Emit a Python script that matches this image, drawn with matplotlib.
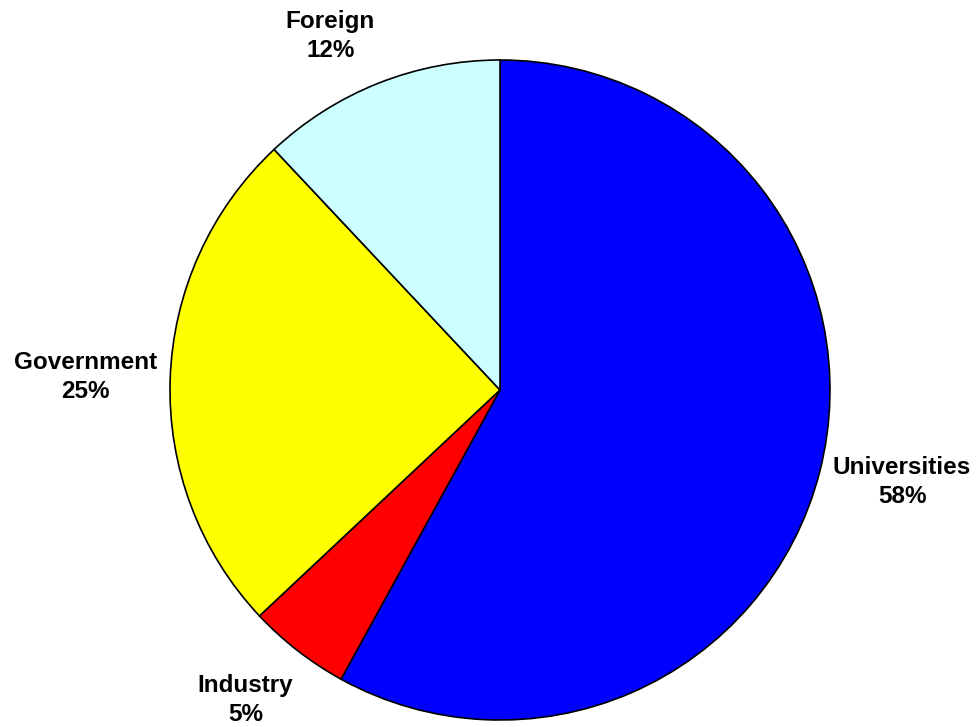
import matplotlib
matplotlib.use("Agg")
import matplotlib.pyplot as plt
import numpy as np

categories = ["Universities", "Industry", "Government", "Foreign"]
values = [58, 5, 25, 12]
colors = ["#0000FF", "#FF0000", "#FFFF00", "#CCFFFF"]
label_dist = [1.25, 1.216, 1.258, 1.19]
label_dang = [1.5, -1.6, 0.0, 4.0]

plt.rcParams['font.family'] = ['Liberation Sans', 'DejaVu Sans']

fig = plt.figure(figsize=(9.8, 7.27), dpi=100)
cx, cy, r = 500, 390, 330
W, H = 980, 727
ax = fig.add_axes([(cx - r) / W, (H - cy - r) / H, 2 * r / W, 2 * r / H])

wedges, _ = ax.pie(values, colors=colors, startangle=90, counterclock=False,
                   radius=1.0, wedgeprops=dict(edgecolor="black", linewidth=1.2))

for w, name, v, d, da in zip(wedges, categories, values, label_dist, label_dang):
    ang = np.deg2rad((w.theta1 + w.theta2) / 2 + da)
    ax.text(d * np.cos(ang), d * np.sin(ang), f"{name}\n{v}%",
            ha="center", va="center", fontsize=17.5, fontweight="bold",
            linespacing=1.32, clip_on=False)

ax.set_xlim(-1, 1)
ax.set_ylim(-1, 1)
ax.set_aspect("equal")
ax.axis("off")

fig.savefig("out.png", dpi=100)
